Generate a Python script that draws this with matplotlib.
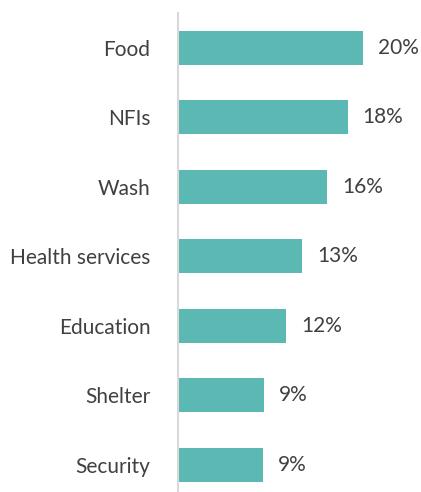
import matplotlib.pyplot as plt

categories = ['Food', 'NFIs', 'Wash', 'Health services', 'Education', 'Shelter', 'Security']
values = [20.0, 18.3, 16.1, 13.4, 11.7, 9.3, 9.2]
labels = ['20%', '18%', '16%', '13%', '12%', '9%', '9%']

plt.rcParams['font.family'] = ['Lato', 'DejaVu Sans']

fig = plt.figure(figsize=(4.21, 4.92), dpi=100)
ax = fig.add_axes([0.423, 0.0, 0.55, 0.974])

ypos = list(range(len(categories)))[::-1]
ax.barh(ypos, values, height=0.49, color='#5CB8B2')

for y, v, lab in zip(ypos, values, labels):
    ax.text(v + 1.6, y, lab, va='center', ha='left', fontsize=15, color='#404040')

ax.set_yticks(ypos)
ax.set_yticklabels(categories, fontsize=15, color='#404040')
ax.tick_params(axis='y', length=0, pad=20)
ax.set_xticks([])
ax.set_xlim(0, 25)
ax.set_ylim(-0.39, 6.5)

for s in ['top', 'right', 'bottom']:
    ax.spines[s].set_visible(False)
ax.spines['left'].set_color('#D9D9D9')
ax.spines['left'].set_linewidth(1.5)

fig.savefig('out.png', dpi=100)
